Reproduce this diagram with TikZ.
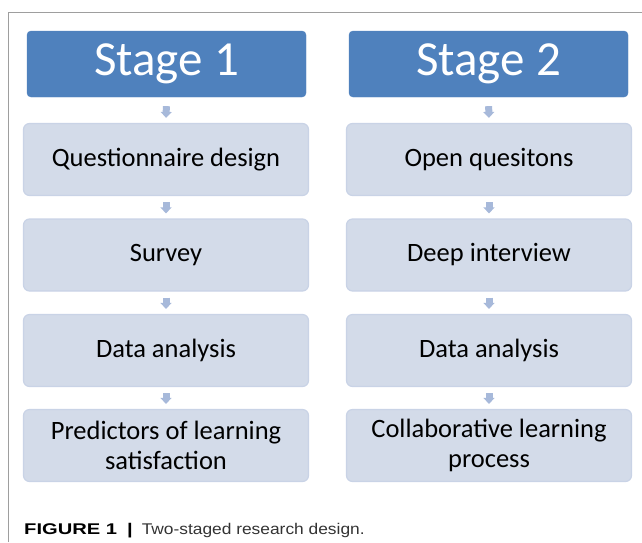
\documentclass[tikz,border=0pt]{standalone}
\usepackage{fontspec}
\setmainfont{Carlito}
\newfontfamily\capfont{Liberation Sans}
\newfontfamily\capboldfont[FakeStretch=1.3]{Liberation Sans Bold}
\newfontfamily\capplainfont[FakeStretch=1.12]{Liberation Sans}
\usetikzlibrary{arrows.meta}
\definecolor{stageblue}{HTML}{4F81BD}
\definecolor{stepfill}{HTML}{D3DBE9}
\definecolor{stepedge}{HTML}{C9D3E6}
\definecolor{arrowblue}{HTML}{A7B9DA}
\definecolor{framegray}{HTML}{9E9E9E}
\definecolor{captext}{HTML}{333333}
\tikzset{
  stagebox/.style={rectangle, rounded corners=4pt, fill=stageblue, draw=stageblue,
    minimum width=279pt, minimum height=66pt, inner sep=0pt,
    text=white, font=\fontsize{49}{50}\selectfont},
  stepbox/.style={rectangle, rounded corners=6pt, fill=stepfill, draw=stepedge, line width=1.2pt,
    minimum width=285pt, minimum height=72pt, inner sep=0pt, align=center,
    text=black, font=\fontsize{26.5}{30}\selectfont},
  flow/.style={draw=arrowblue, line width=7pt,
    -{Triangle[width=11pt,length=6pt]}, shorten >=5pt},
}
\begin{document}
\begin{tikzpicture}[x=1pt,y=-1pt]
\useasboundingbox (0,0) rectangle (642,542);
% frame lines
\draw[framegray, line width=1pt] (8,542) -- (8,12) -- (642,12);

% stage 1 column
\node[stagebox] (s1) at (166.5,64) {Stage 1};
\node[stepbox] (a1) at (166,159.5) {Questionnaire design};
\node[stepbox] (a2) at (166,255) {Survey};
\node[stepbox] (a3) at (166,350.5) {Data analysis};
\node[stepbox] (a4) at (166,445.5) {Predictors of learning\\satisfaction};

% stage 2 column
\node[stagebox] (s2) at (488.5,64) {Stage 2};
\node[stepbox] (b1) at (489,159.5) {Open quesitons};
\node[stepbox] (b2) at (489,255) {Deep interview};
\node[stepbox] (b3) at (489,350.5) {Data analysis};
\node[stepbox] (b4) at (489,445.5) {Collaborative learning\\process};

% connectors
\draw[flow, shorten <=9pt] (s1.south) -- (a1.north);
\draw[flow, shorten <=6pt] (a1.south) -- (a2.north);
\draw[flow, shorten <=6pt] (a2.south) -- (a3.north);
\draw[flow, shorten <=6pt] (a3.south) -- (a4.north);
\draw[flow, shorten <=9pt] (s2.south) -- (b1.north);
\draw[flow, shorten <=6pt] (b1.south) -- (b2.north);
\draw[flow, shorten <=6pt] (b2.south) -- (b3.north);
\draw[flow, shorten <=6pt] (b3.south) -- (b4.north);

% caption
\node[anchor=base west, inner sep=0pt, font=\fontsize{15.5}{18}\selectfont] (cap) at (24,534)
  {{\capboldfont FIGURE 1}\hspace{10pt}{\capboldfont |}\hspace{9pt}{\capplainfont\color{captext}Two-staged research design.}};
\end{tikzpicture}
\end{document}
